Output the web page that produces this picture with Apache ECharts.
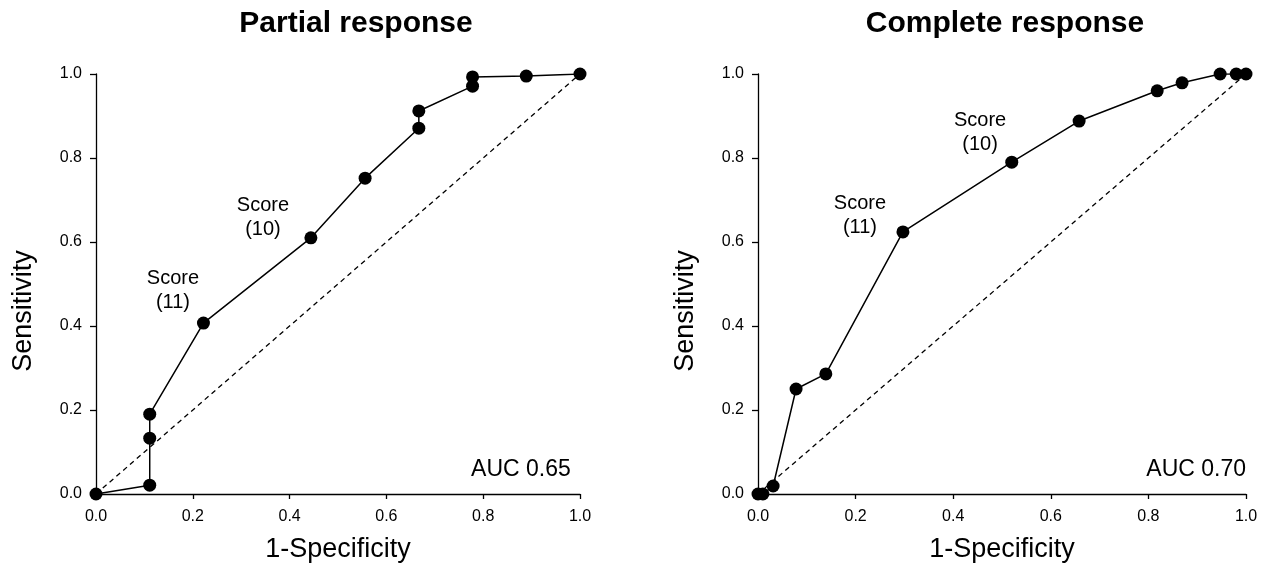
<!DOCTYPE html>
<html>
<head>
<meta charset="utf-8">
<script src="https://cdn.jsdelivr.net/npm/echarts@6/dist/echarts.min.js"></script>
<style>html,body{margin:0;padding:0;background:#fff}#c{width:1263px;height:568px}</style>
</head>
<body>
<div id="c"></div>
<script>
// ---- data ----
const titles = ['Partial response', 'Complete response'];
const partialROC = [[0,0],[0.111,0.021],[0.111,0.133],[0.111,0.19],[0.222,0.407],[0.444,0.61],[0.556,0.752],[0.667,0.871],[0.667,0.912],[0.778,0.971],[0.778,0.993],[0.889,0.995],[1,1]];
const completeROC = [[0,0],[0.01,0],[0.031,0.019],[0.078,0.25],[0.139,0.286],[0.297,0.624],[0.52,0.79],[0.658,0.888],[0.818,0.96],[0.869,0.979],[0.947,1.0],[0.98,1.0],[1,1]];
const diagonal = [[0,0],[1,1]];
const partialNotes = [[0.159,0.484,'Score\n(11)'],[0.345,0.658,'Score\n(10)']];
const completeNotes = [[0.209,0.664,'Score\n(11)'],[0.455,0.86,'Score\n(10)']];
const aucLabels = ['AUC 0.65','AUC 0.70'];
const aucPos = [[0.981,0.057],[1.0,0.057]];
const ticks = [0,0.2,0.4,0.6,0.8,1.0];
const xName = '1-Specificity';
const yName = 'Sensitivity';

const FONT = 'Liberation Sans, Arial, sans-serif';
const grids = [
  {left:96, top:74, width:484, height:420},
  {left:758, top:74, width:488, height:420}
];
function xAx(i){return {gridIndex:i,type:'value',min:ticks[0],max:ticks[ticks.length-1],interval:0.2,
  name:xName,nameLocation:'middle',nameGap:42,nameTextStyle:{fontSize:27,color:'#000',fontFamily:FONT},
  axisLine:{lineStyle:{color:'#000',width:1.3}},axisTick:{length:5,lineStyle:{color:'#000',width:1.3}},
  axisLabel:{color:'#000',fontSize:16,fontFamily:FONT,margin:15,formatter:v=>v.toFixed(1)},splitLine:{show:false}};}
function yAx(i){return {gridIndex:i,type:'value',min:ticks[0],max:ticks[ticks.length-1],interval:0.2,
  name:yName,nameLocation:'middle',nameGap:59,
  nameTextStyle:{fontSize:27,color:'#000',fontFamily:FONT,padding:[0,54,0,0]},
  axisLine:{lineStyle:{color:'#000',width:1.3}},axisTick:{length:6,lineStyle:{color:'#000',width:1.3}},
  axisLabel:{color:'#000',fontSize:16,fontFamily:FONT,margin:14,formatter:v=>v.toFixed(1)},splitLine:{show:false}};}

function seriesFor(i, roc, notes){
  return [
    {type:'line',xAxisIndex:i,yAxisIndex:i,data:diagonal,symbol:'none',silent:true,
     lineStyle:{color:'#000',width:1.3,type:[5,4]}},
    {type:'line',xAxisIndex:i,yAxisIndex:i,data:roc,symbol:'circle',symbolSize:13,
     itemStyle:{color:'#000'},lineStyle:{color:'#000',width:1.5},z:3},
    {type:'scatter',xAxisIndex:i,yAxisIndex:i,symbolSize:0,silent:true,itemStyle:{opacity:1,color:'#000'},
     data:notes.map(n=>({value:[n[0],n[1]],label:{formatter:n[2]}})),
     label:{show:true,position:'inside',color:'#000',fontSize:20,lineHeight:24,fontFamily:FONT,align:'center',verticalAlign:'middle'}},
    {type:'scatter',xAxisIndex:i,yAxisIndex:i,symbolSize:0,silent:true,itemStyle:{opacity:1,color:'#000'},
     data:[{value:aucPos[i],label:{formatter:aucLabels[i]}}],
     label:{show:true,position:'inside',color:'#000',fontSize:23,fontFamily:FONT,align:'right',verticalAlign:'middle'}}
  ];
}

const chart = echarts.init(document.getElementById('c'));
chart.setOption({
  animation:false,
  backgroundColor:'#fff',
  title:[
    {text:titles[0],left:351,top:4,textAlign:'center',textStyle:{fontSize:30,fontWeight:'bold',color:'#000',fontFamily:FONT}},
    {text:titles[1],left:1000,top:4,textAlign:'center',textStyle:{fontSize:30,fontWeight:'bold',color:'#000',fontFamily:FONT}}
  ],
  grid:grids,
  xAxis:[xAx(0),xAx(1)],
  yAxis:[yAx(0),yAx(1)],
  series:[].concat(seriesFor(0,partialROC,partialNotes),seriesFor(1,completeROC,completeNotes))
});
</script>
</body>
</html>
